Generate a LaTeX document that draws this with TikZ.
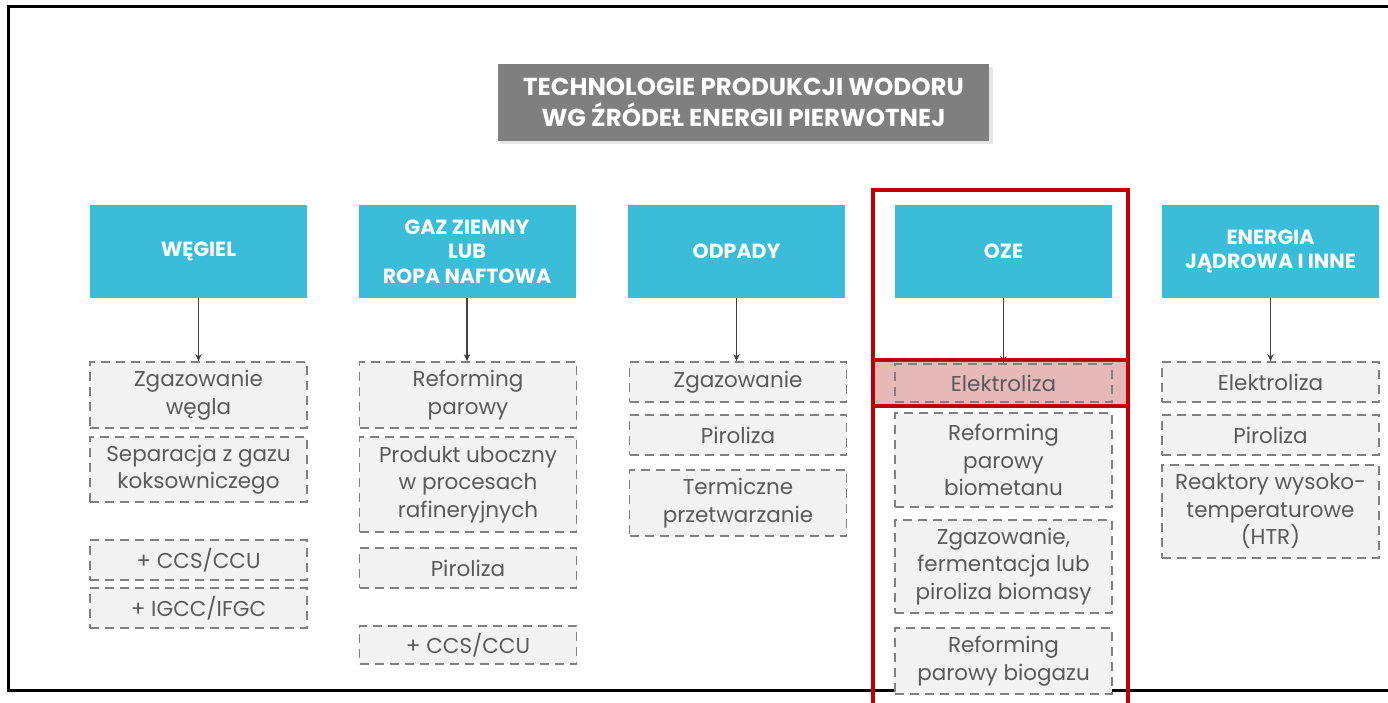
\documentclass[tikz,border=0pt]{standalone}
\usepackage{fontspec}
\setmainfont{Poppins}
\usetikzlibrary{arrows.meta}
\definecolor{hdr}{HTML}{3BBDD9}
\definecolor{ttlgray}{HTML}{7F7F7F}
\definecolor{dgray}{HTML}{808080}
\definecolor{lgray}{HTML}{F2F2F2}
\definecolor{tgray}{HTML}{5A5A5A}
\definecolor{agray}{HTML}{404040}
\definecolor{hired}{HTML}{C00000}
\definecolor{pinkc}{HTML}{E6B9B8}
\tikzset{
  ttlbox/.style={fill=ttlgray, text=white, font=\bfseries\fontsize{24.5}{31}\selectfont, align=center, minimum width=491pt, minimum height=77pt, inner sep=0pt},
  hdrbox/.style={fill=hdr, text=white, font=\bfseries\fontsize{20.5}{24.5}\selectfont, align=center, minimum width=217pt, minimum height=93pt, inner sep=0pt},
  dbox/.style={draw=dgray, dash pattern=on 9pt off 6pt, line width=1.8pt, fill=lgray, text=tgray, font=\fontsize{21.5}{27.5}\selectfont, align=center, minimum width=217pt, inner sep=0pt},
  conn/.style={draw=agray, line width=1.8pt, -{Stealth[length=7pt,width=6.5pt]}},
  redbox/.style={draw=hired, line width=4pt},
  frameline/.style={draw=black, line width=3pt}
}
\begin{document}
\begin{tikzpicture}[x=1pt,y=-1pt]
\useasboundingbox (0,0) rectangle (1388,702);
\clip (0,0) rectangle (1388,702);
\fill[white] (0,0) rectangle (1388,702);
% frame
\draw[frameline] (1392,6) -- (8,6) -- (8,690) -- (1392,690);
% title
\fill[black!10] (500,67) rectangle (993,144);
\node[ttlbox] (title) at (743.5,102.5) {TECHNOLOGIE PRODUKCJI WODORU\\WG ŹRÓDEŁ ENERGII PIERWOTNEJ};
% highlight band
\fill[pinkc] (873,360) rectangle (1128,406);
% headers
\node[hdrbox] (h1) at (198.5,251.5) {WĘGIEL};
\node[hdrbox] (h2) at (467,251.5) {GAZ ZIEMNY\\LUB\\ROPA NAFTOWA};
\node[hdrbox] (h3) at (736.5,251.5) {ODPADY};
\node[hdrbox] (h4) at (1003.5,251.5) {OZE};
\node[hdrbox] (h5) at (1270.5,251.5) {ENERGIA\\JĄDROWA I INNE};
% column 1
\node[dbox, minimum height=66pt] (b11) at (198.5,395) {Zgazowanie\\węgla};
\node[dbox, minimum height=65pt] (b12) at (198.5,469.5) {Separacja z gazu\\koksowniczego};
\node[dbox, minimum height=40pt] (b13) at (198.5,560) {+ CCS/CCU};
\node[dbox, minimum height=40pt] (b14) at (198.5,608) {+ IGCC/IFGC};
% column 2
\node[dbox, minimum height=66pt] (b21) at (468,395) {Reforming\\parowy};
\node[dbox, minimum height=95pt] (b22) at (468,484.5) {Produkt uboczny\\w procesach\\rafineryjnych};
\node[dbox, minimum height=40pt] (b23) at (468,568) {Piroliza};
\node[dbox, minimum height=38pt] (b24) at (468,645) {+ CCS/CCU};
% column 3
\node[dbox, minimum height=40pt] (b31) at (738,382) {Zgazowanie};
\node[dbox, minimum height=40pt] (b32) at (738,435) {Piroliza};
\node[dbox, minimum height=66pt] (b33) at (738,503) {Termiczne\\przetwarzanie};
% column 4
\node[dbox, fill=pinkc, minimum height=38pt] (b41) at (1003.5,383) {Elektroliza};
\node[dbox, minimum height=94pt] (b42) at (1003.5,460) {Reforming\\parowy\\biometanu};
\node[dbox, minimum height=93pt] (b43) at (1003.5,566.5) {Zgazowanie,\\fermentacja lub\\piroliza biomasy};
\node[dbox, minimum height=66pt] (b44) at (1003.5,661) {Reforming\\parowy biogazu};
% column 5
\node[dbox, minimum height=40pt] (b51) at (1270.5,382) {Elektroliza};
\node[dbox, minimum height=40pt] (b52) at (1270.5,435) {Piroliza};
\node[dbox, minimum height=93pt] (b53) at (1270.5,511.5) {Reaktory wysoko-\\temperaturowe\\(HTR)};
% connectors
\draw[conn] (h1.south) -- (h1.south |- b11.north);
\draw[conn] (h2.south) -- (h2.south |- b21.north);
\draw[conn] (h3.south) -- (h3.south |- b31.north);
\draw[conn] (h4.south) -- (h4.south |- b41.north);
\draw[conn] (h5.south) -- (h5.south |- b51.north);
% red highlight boxes
\draw[redbox] (873,190) rectangle (1128,720);
\draw[redbox] (873,360) -- (1128,360);
\draw[redbox] (873,406) -- (1128,406);
\end{tikzpicture}
\end{document}
